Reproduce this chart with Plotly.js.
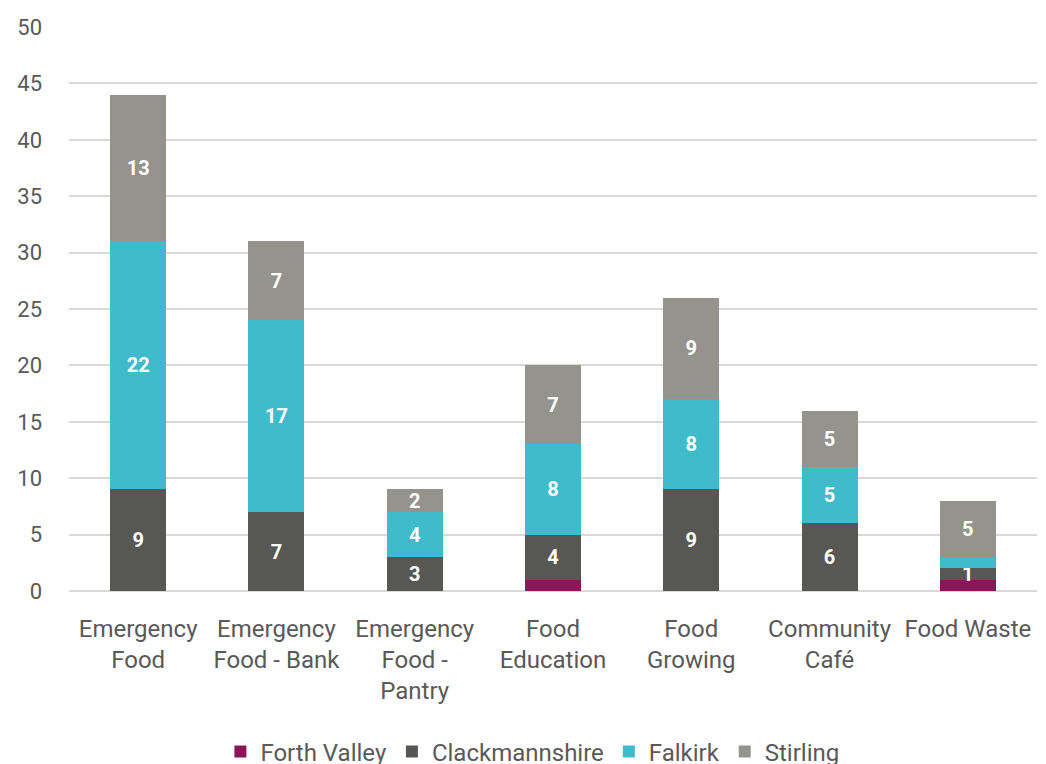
<!DOCTYPE html>
<html>
<head>
<meta charset="utf-8">
<script src="https://cdn.plot.ly/plotly-3.0.1.min.js"></script>
<style>html,body{margin:0;padding:0;background:#fff;}#chart{width:1046px;height:764px;}</style>
</head>
<body>
<div id="chart"></div>
<script>
const categories = ["Emergency<br>Food", "Emergency<br>Food - Bank", "Emergency<br>Food -<br>Pantry", "Food<br>Education", "Food<br>Growing", "Community<br>Café", "Food Waste"];
const forthValley = [0, 0, 0, 1, 0, 0, 1];
const clackmannshire = [9, 7, 3, 4, 9, 6, 1];
const falkirk = [22, 17, 4, 8, 8, 5, 1];
const stirling = [13, 7, 2, 7, 9, 5, 5];
// labels as shown in the reference
const forthValleyLabels = ["", "", "", "", "", "", ""];
const clackmannshireLabels = ["9", "7", "3", "4", "9", "6", "1"];
const falkirkLabels = ["22", "17", "4", "8", "8", "5", ""];
const stirlingLabels = ["13", "7", "2", "7", "9", "5", "5"];

const series = [
  {name: "Forth Valley", y: forthValley, text: forthValleyLabels, color: "#8A1659"},
  {name: "Clackmannshire", y: clackmannshire, text: clackmannshireLabels, color: "#575853"},
  {name: "Falkirk", y: falkirk, text: falkirkLabels, color: "#40BBCB"},
  {name: "Stirling", y: stirling, text: stirlingLabels, color: "#95938E"}
];

const traces = series.map(s => ({
  type: "bar",
  name: s.name,
  x: categories,
  y: s.y,
  text: s.text,
  textposition: "inside",
  insidetextanchor: "middle",
  constraintext: "none",
  textangle: 0,
  textfont: {family: "Roboto, sans-serif", size: 20, color: "#ffffff", weight: "bold"},
  marker: {color: s.color, line: {width: 0}},
  hoverinfo: "none"
}));

const layout = {
  width: 1046, height: 764,
  barmode: "stack",
  bargap: 0.595,
  paper_bgcolor: "#ffffff",
  plot_bgcolor: "#ffffff",
  margin: {l: 69, r: 9, t: 27, b: 173},
  font: {family: "Roboto, sans-serif", color: "#595959", size: 22},
  xaxis: {
    type: "category",
    tickfont: {size: 24, color: "#595959"},
    showgrid: false,
    showline: false,
    ticks: "",
    ticklabelstandoff: 21
  },
  yaxis: {
    range: [0, 50],
    dtick: 5,
    tickfont: {size: 22, color: "#595959"},
    showgrid: true,
    gridcolor: "#D9D9D9",
    gridwidth: 2,
    zeroline: true,
    zerolinecolor: "#D9D9D9",
    zerolinewidth: 2,
    showline: false,
    ticks: "",
    ticklabelstandoff: 26
  },
  legend: {
    orientation: "h",
    x: 0.509, xanchor: "center",
    xref: "container",
    y: 0.016, yanchor: "middle", yref: "container",
    font: {size: 24, color: "#595959"},
    traceorder: "normal",
    itemwidth: 30
  },
  showlegend: true
};

Plotly.newPlot("chart", traces, layout, {displayModeBar: false, staticPlot: true});
</script>
</body>
</html>
